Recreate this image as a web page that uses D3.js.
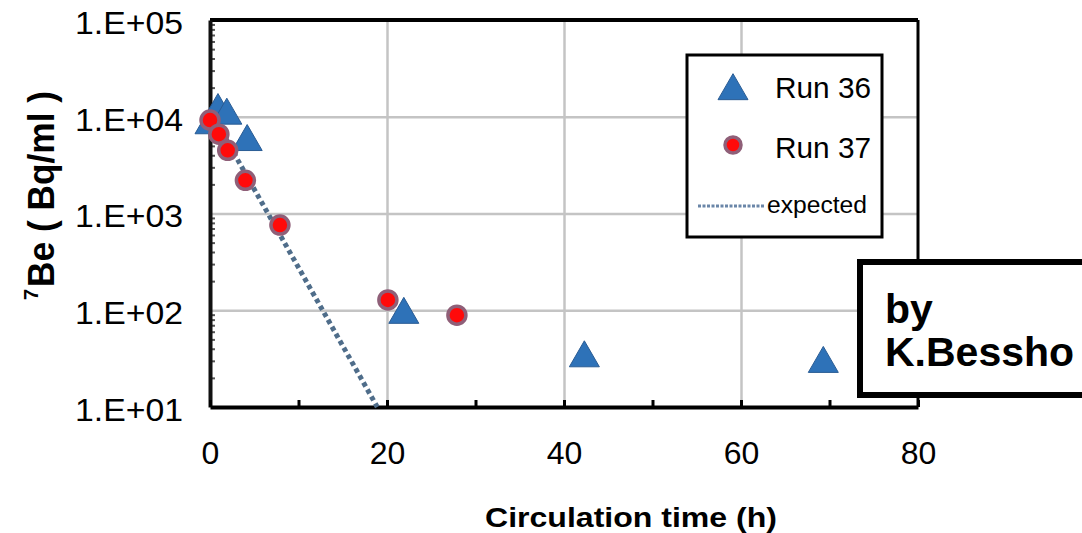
<!DOCTYPE html>
<html>
<head>
<meta charset="utf-8">
<script src="https://cdn.jsdelivr.net/npm/d3@7"></script>
<style>
  body { margin: 0; background: #fff; }
  svg { display: block; font-family: "Liberation Sans", Arial, sans-serif; }
</style>
</head>
<body>
<div id="myPlot"></div>
<script>
// Run 36 (triangles)
const run36Time = [0, 0.9, 1.9, 4.2, 21.9, 42.3, 69.3];
const run36Be = [8200, 11500, 10300, 5500, 90, 32, 28];
// Run 37 (circles)
const run37Time = [0, 1.0, 2.0, 4.0, 7.9, 20.1, 27.9];
const run37Be = [9250, 6600, 4500, 2200, 760, 128, 89];
// expected decay, end points
const expectedTime = [0, 18.9];
const expectedBe = [11500, 10];

const xTicks = [0, 20, 40, 60, 80];
const yTicks = [1e1, 1e2, 1e3, 1e4, 1e5];
const yTickLabels = ["1.E+01", "1.E+02", "1.E+03", "1.E+04", "1.E+05"];
const legendLabels = ["Run 36", "Run 37", "expected"];

// Set Dimensions
const W = 1082, H = 533;
const margin = {left: 210, top: 20, right: 164, bottom: 126};
const xMax = W - margin.left - margin.right;
const yMax = H - margin.top - margin.bottom;

const root = d3.select("#myPlot").append("svg")
  .attr("width", W).attr("height", H);

root.append("rect").attr("width", W).attr("height", H).attr("fill", "#fff");

const svg = root.append("g")
  .attr("transform", "translate(" + margin.left + "," + margin.top + ")");

const x = d3.scaleLinear().domain([0, 80]).range([0, xMax]);
const y = d3.scaleLog().domain([10, 1e5]).range([yMax, 0]);

// grid lines
svg.append("g")
  .attr("transform", "translate(0," + yMax + ")")
  .call(d3.axisBottom(x).tickValues([20, 40, 60]).tickSize(-yMax).tickFormat(""))
  .call(g => g.select(".domain").remove())
  .selectAll("line").attr("stroke", "#c4c4c4").attr("stroke-width", 2.5);

svg.append("g")
  .call(d3.axisLeft(y).tickValues([1e2, 1e3, 1e4]).tickSize(-xMax).tickFormat(""))
  .call(g => g.select(".domain").remove())
  .selectAll("line").attr("stroke", "#c4c4c4").attr("stroke-width", 2.5);

// frame top and right
svg.append("line")
  .attr("x1", x(0)).attr("x2", x(80)).attr("y1", y(1e5)).attr("y2", y(1e5))
  .attr("stroke", "#000").attr("stroke-width", 4);
svg.append("line")
  .attr("x1", x(80)).attr("x2", x(80)).attr("y1", y(1e5)).attr("y2", y(10))
  .attr("stroke", "#000").attr("stroke-width", 3);

// minor log ticks on the left axis
const minor = [];
for (let k = 1; k < 5; k++) {
  for (let m = 2; m < 10; m++) minor.push(m * Math.pow(10, k));
}
svg.append("g")
  .call(d3.axisLeft(y).tickValues(minor).tickSize(-5).tickFormat(""))
  .call(g => g.select(".domain").remove())
  .selectAll("line").attr("stroke", "#555").attr("stroke-width", 2);

// Y Axis
const yAxis = svg.append("g")
  .call(d3.axisLeft(y).tickValues(yTicks).tickSize(0).tickPadding(27)
    .tickFormat((d, i) => yTickLabels[i]));
yAxis.select(".domain").attr("stroke", "#111").attr("stroke-width", 4);
yAxis.selectAll("text")
  .attr("dy", "0.42em")
  .attr("fill", "#000")
  .attr("textLength", 108).attr("lengthAdjust", "spacingAndGlyphs")
  .style("font-size", "32px")
  .style("font-family", "Liberation Sans, Arial, sans-serif");

// X Axis
const xAxis = svg.append("g")
  .attr("transform", "translate(0," + yMax + ")")
  .call(d3.axisBottom(x).tickValues(d3.range(0, 81, 10)).tickSizeInner(-7).tickSizeOuter(0)
    .tickPadding(34).tickFormat(d => xTicks.includes(d) ? d : ""));
xAxis.select(".domain").attr("stroke", "#000").attr("stroke-width", 4);
xAxis.selectAll(".tick line").attr("stroke", "#000").attr("stroke-width", 3);
xAxis.selectAll("text")
  .attr("fill", "#000")
  .style("font-size", "32px")
  .style("font-family", "Liberation Sans, Arial, sans-serif");

// axis titles
root.append("text")
  .attr("x", 631).attr("y", 527)
  .attr("text-anchor", "middle")
  .attr("textLength", 292).attr("lengthAdjust", "spacingAndGlyphs")
  .style("font-size", "28px").style("font-weight", "bold")
  .text("Circulation time (h)");

const yTitle = root.append("g").attr("transform", "translate(54,300) rotate(-90)");
yTitle.append("text")
  .attr("x", 0).attr("y", -16)
  .style("font-size", "20px").style("font-weight", "bold")
  .text("7");
yTitle.append("text")
  .attr("x", 13).attr("y", 0)
  .attr("textLength", 196).attr("lengthAdjust", "spacingAndGlyphs")
  .style("font-size", "36px").style("font-weight", "bold")
  .text("Be ( Bq/ml )");

// expected line
const expData = expectedTime.map((t, i) => [t, expectedBe[i]]);
svg.append("path")
  .datum(expData)
  .attr("d", d3.line().x(d => x(d[0])).y(d => y(d[1])))
  .attr("fill", "none")
  .attr("stroke", "#4f6d8a")
  .attr("stroke-width", 5)
  .attr("stroke-dasharray", "4.5,3.5");

const triangle = d3.symbol(d3.symbolTriangle, 390);
const triFill = "#2e72b8", triStroke = "#2a5c94";
const cirFill = "#ff0a0a", cirStroke = "#8f5f78";

// Run 36 triangles
svg.append("g")
  .selectAll("path")
  .data(run36Time.map((t, i) => [t, run36Be[i]])).enter()
  .append("path")
  .attr("d", triangle)
  .attr("transform", d => "translate(" + x(d[0]) + "," + y(d[1]) + ")")
  .attr("fill", triFill).attr("stroke", triStroke).attr("stroke-width", 1);

// Run 37 circles
svg.append("g")
  .selectAll("circle")
  .data(run37Time.map((t, i) => [t, run37Be[i]])).enter()
  .append("circle")
  .attr("cx", d => x(d[0]))
  .attr("cy", d => y(d[1]))
  .attr("r", 9)
  .attr("fill", cirFill).attr("stroke", cirStroke).attr("stroke-width", 3.5);

// Legend
const leg = root.append("g");
leg.append("rect")
  .attr("x", 687).attr("y", 55).attr("width", 195).attr("height", 182)
  .attr("fill", "#fff").attr("stroke", "#000").attr("stroke-width", 3);
leg.append("path")
  .attr("d", triangle)
  .attr("transform", "translate(733,91)")
  .attr("fill", triFill).attr("stroke", triStroke).attr("stroke-width", 1);
leg.append("circle")
  .attr("cx", 733).attr("cy", 145).attr("r", 8)
  .attr("fill", cirFill).attr("stroke", cirStroke).attr("stroke-width", 3.5);
leg.append("line")
  .attr("x1", 698).attr("x2", 765).attr("y1", 206).attr("y2", 206)
  .attr("stroke", "#6a86a8").attr("stroke-width", 3).attr("stroke-dasharray", "3,1.5");
leg.append("text").attr("x", 775).attr("y", 98)
  .attr("textLength", 96).attr("lengthAdjust", "spacingAndGlyphs")
  .style("font-size", "30px").text(legendLabels[0]);
leg.append("text").attr("x", 775).attr("y", 158)
  .attr("textLength", 96).attr("lengthAdjust", "spacingAndGlyphs")
  .style("font-size", "30px").text(legendLabels[1]);
leg.append("text").attr("x", 767).attr("y", 213)
  .attr("textLength", 100).attr("lengthAdjust", "spacingAndGlyphs")
  .style("font-size", "23px").text(legendLabels[2]);

// author box
const note = root.append("g");
note.append("rect")
  .attr("x", 860).attr("y", 262).attr("width", 260).attr("height", 133)
  .attr("fill", "#fff").attr("stroke", "#000").attr("stroke-width", 6);
note.append("text").attr("x", 885).attr("y", 323)
  .style("font-size", "41px").style("font-weight", "bold").text("by");
note.append("text").attr("x", 885).attr("y", 366)
  .style("font-size", "41px").style("font-weight", "bold").text("K.Bessho");
</script>
</body>
</html>
